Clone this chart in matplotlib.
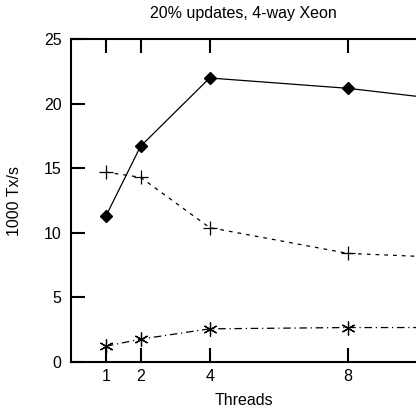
import matplotlib
matplotlib.use("Agg")
import matplotlib.pyplot as plt

plt.rcParams['font.family'] = ['Liberation Sans', 'DejaVu Sans']

# Data (last point lies beyond the visible area)
threads = [1, 2, 4, 8, 16]
diamond = [11.3, 16.7, 22.0, 21.2, 18.7]
plus = [14.7, 14.3, 10.4, 8.4, 7.5]
star = [1.2, 1.75, 2.55, 2.65, 2.65]
xticks = [1, 2, 4, 8]
yticks = [0, 5, 10, 15, 20, 25]

fig = plt.figure(figsize=(4.16, 4.09), dpi=100)
ax = fig.add_axes([0.1716, 0.1156, 0.8284, 0.7883])

ax.plot(threads, diamond, color='black', lw=0.9, marker='D', ms=6.5)
ax.plot(threads, plus, color='black', lw=0.9, ls=(0, (3, 4)), marker='+',
        ms=10, mew=0.9)
ax.plot(threads, star, color='black', lw=0.9, ls=(0, (6, 3, 1, 3)),
        marker=(6, 2, 0), ms=10, mew=0.9)

ax.set_xlim(0, 9.97)
ax.set_ylim(0, 25)
ax.set_xticks(xticks)
ax.set_yticks(yticks)
for sp in ['left', 'bottom', 'top']:
    ax.spines[sp].set_linewidth(1.5)
ax.spines['right'].set_visible(False)
ax.tick_params(axis='both', direction='in', length=10, width=1.5,
               labelsize=11.5, pad=7)
ax.tick_params(axis='x', top=True, pad=5)
ax.tick_params(axis='y', right=False)

ax.set_title('20% updates, 4-way Xeon', fontsize=11.5, pad=15)
ax.set_xlabel('Threads', fontsize=11.5, labelpad=7)
ax.set_ylabel('1000 Tx/s', fontsize=11.5, labelpad=16)

fig.savefig('out.png', dpi=100)
